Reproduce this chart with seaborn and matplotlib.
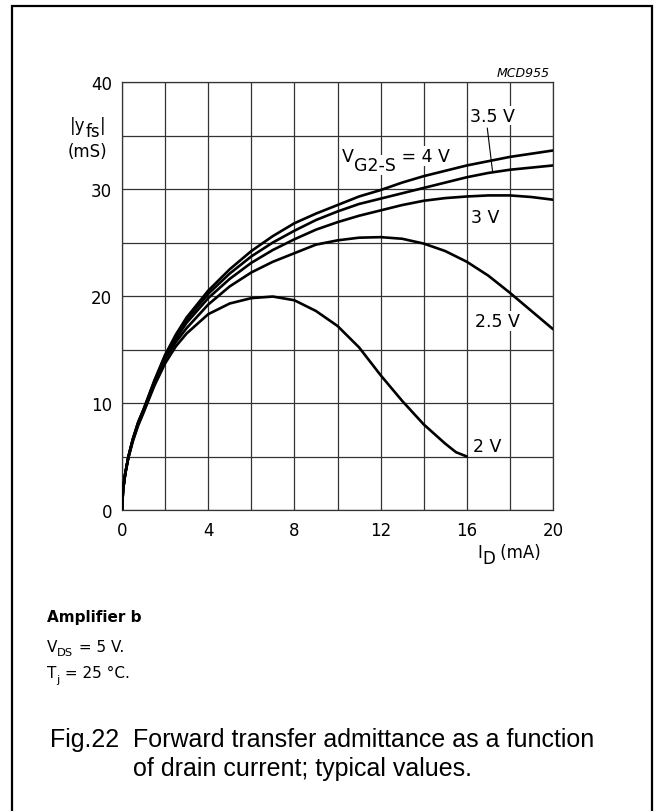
import numpy as np
import pandas as pd
import matplotlib
matplotlib.use("Agg")
import matplotlib.pyplot as plt
import matplotlib.patches as patches
import seaborn as sns

# values (I_D in mA, |yfs| in mS)
id_common = [0, 0.05, 0.15, 0.3, 0.5, 0.75, 1, 1.5, 2, 2.5,
             3, 4, 5, 6, 7, 8, 9, 10, 11, 12, 13, 14, 15, 16, 17, 18, 19, 20]
yfs_4v = [0, 1.9, 3.4, 5.0, 6.6, 8.2, 9.4, 12.1, 14.5, 16.4,
          18.0, 20.5, 22.5, 24.2, 25.6, 26.8, 27.7, 28.5, 29.3, 29.9, 30.6, 31.2, 31.7, 32.2, 32.6, 33.0, 33.3, 33.6]
yfs_3v5 = [0, 1.9, 3.4, 5.0, 6.6, 8.2, 9.4, 12.0, 14.4, 16.2,
           17.8, 20.2, 22.1, 23.7, 25.0, 26.1, 27.1, 27.9, 28.6, 29.1, 29.6, 30.1, 30.6, 31.1, 31.5, 31.8, 32.0, 32.2]
yfs_3v = [0, 1.9, 3.4, 5.0, 6.6, 8.1, 9.3, 11.9, 14.3, 16.0,
          17.5, 19.8, 21.6, 23.1, 24.3, 25.3, 26.2, 26.9, 27.5, 28.0, 28.5, 28.9, 29.15, 29.3, 29.4, 29.4, 29.25, 29.0]
yfs_2v5 = [0, 1.9, 3.4, 5.0, 6.5, 8.0, 9.2, 11.8, 14.1, 15.7,
           17.0, 19.2, 20.9, 22.2, 23.2, 24.0, 24.8, 25.2, 25.45, 25.5, 25.35, 24.9, 24.2, 23.2, 21.9, 20.3, 18.6, 16.9]
id_2v = [0, 0.05, 0.15, 0.3, 0.5, 0.75, 1, 1.5, 2, 2.5,
         3, 4, 5, 6, 7, 8, 9, 10, 11, 12, 13, 14, 15, 15.5, 16]
yfs_2v = [0, 1.9, 3.4, 4.9, 6.4, 7.9, 9.1, 11.6, 13.7, 15.3,
          16.5, 18.3, 19.3, 19.8, 19.95, 19.6, 18.6, 17.2, 15.2, 12.6, 10.2, 8.0, 6.2, 5.4, 5.0]

curves = {"4 V": (id_common, yfs_4v), "3.5 V": (id_common, yfs_3v5),
          "3 V": (id_common, yfs_3v), "2.5 V": (id_common, yfs_2v5),
          "2 V": (id_2v, yfs_2v)}

x_ticks = [0, 4, 8, 12, 16, 20]
y_ticks = [0, 10, 20, 30, 40]

rows = []
for name, (xs, ys) in curves.items():
    for x, y in zip(xs, ys):
        rows.append((name, x, y))
df = pd.DataFrame(rows, columns=["vg2s", "id", "yfs"])

sns.set_style("white")
plt.rcParams["font.family"] = ["DejaVu Sans"]
plt.rcParams["text.color"] = "black"
plt.rcParams["xtick.color"] = "black"
plt.rcParams["ytick.color"] = "black"

W, H = 656, 812
fig = plt.figure(figsize=(W / 100, H / 100), dpi=100)
ax = fig.add_axes([122 / W, 1 - 511 / H, 431 / W, 428 / H])

sns.lineplot(data=df, x="id", y="yfs", hue="vg2s",
             palette={k: "black" for k in curves}, estimator=None,
             sort=False, legend=False, lw=1.9, ax=ax, zorder=3)

ax.set_xlim(0, 20)
ax.set_ylim(0, 40)
ax.set_xticks(x_ticks)
ax.set_xticks(np.arange(0, 21, 2), minor=True)
ax.set_yticks(y_ticks)
ax.set_yticks(np.arange(0, 41, 5), minor=True)
ax.grid(which="both", color="#333333", lw=0.9)
ax.set_axisbelow(True)
ax.tick_params(which="both", length=0, labelsize=12, labelcolor="black")
ax.tick_params(axis="y", pad=7)
ax.tick_params(axis="x", pad=8)
ax.set_xlabel("")
ax.set_ylabel("")
for sp in ax.spines.values():
    sp.set_color("#333333")
    sp.set_linewidth(0.9)


def rich(parts, xy, xycoords, size, **kw):
    # chain of text pieces: (text, drop in points below baseline, size factor)
    prev, prev_drop = None, 0
    for s, drop, scale in parts:
        if prev is None:
            t = ax.annotate(s, xy=xy, xycoords=xycoords, fontsize=size * scale,
                            va="baseline", ha="left", annotation_clip=False,
                            color="black", **kw)
        else:
            t = ax.annotate(s, xy=(1, 0), xycoords=prev, xytext=(0, prev_drop - drop),
                            textcoords="offset points", fontsize=size * scale,
                            va="bottom", ha="left", annotation_clip=False,
                            color="black", **kw)
        prev, prev_drop = t, drop
    return prev


def fig_xy(px, py):
    return (px / W, 1 - py / H)


lbl = dict(bbox=dict(fc="white", ec="none", pad=0.6), zorder=5)

# curve labels
rich([("V", 0, 1), ("G2-S", 6.5, 1), (" = 4 V", 0, 1)], (10.2, 32.6), "data", 12.5, **lbl)
ax.annotate("3.5 V", xy=(17.2, 36.4), fontsize=12.5, ha="center", va="baseline", **lbl)
ax.annotate("", xy=(17.2, np.interp(17.2, id_common, yfs_3v5)), xytext=(16.95, 35.7),
            arrowprops=dict(arrowstyle="-", lw=0.8, color="black", shrinkA=0, shrinkB=0))
ax.annotate("3 V", xy=(16.2, 26.9), fontsize=12.5, ha="left", va="baseline", **lbl)
ax.annotate("2.5 V", xy=(16.4, 17.2), fontsize=12.5, ha="left", va="baseline", **lbl)
ax.annotate("2 V", xy=(16.3, 5.55), fontsize=12.5, ha="left", va="baseline", **lbl)

ax.text(19.86, 40.6, "MCD955", fontsize=9, style="italic", ha="right", va="baseline")

# axis titles
rich([("|y", 0, 1), ("fs", 4.5, 1), ("|", 0, 1)], fig_xy(70, 131), "figure fraction", 12)
fig.text(*fig_xy(68, 157), "(mS)", fontsize=12, ha="left", va="baseline")
rich([("I", 0, 1), ("D", 4.5, 1), (" (mA)", 0, 1)], fig_xy(477, 558), "figure fraction", 12)

# notes
fig.text(*fig_xy(47, 622), "Amplifier b", fontsize=11, weight="bold", ha="left", va="baseline")
rich([("V", 0, 1), ("DS", 2.5, 0.75), (" = 5 V.", 0, 1)], fig_xy(47, 652), "figure fraction", 11)
rich([("T", 0, 1), ("j", 3, 0.75), (" = 25 \u00b0C.", 0, 1)], fig_xy(47, 678), "figure fraction", 11)

# caption
cap = dict(fontsize=18, family="Liberation Sans", ha="left", va="baseline")
fig.text(*fig_xy(50, 747), "Fig.22", **cap)
fig.text(*fig_xy(133, 747), "Forward transfer admittance as a function", **cap)
fig.text(*fig_xy(133, 776), "of drain current; typical values.", **cap)

# outer frame
fig.add_artist(patches.Rectangle((12 / W, -0.01), 640 / W, 1.01 - 7 / H,
                                 transform=fig.transFigure, fill=False,
                                 lw=1.6, ec="black"))

fig.savefig("out.png", dpi=100)
plt.close(fig)
